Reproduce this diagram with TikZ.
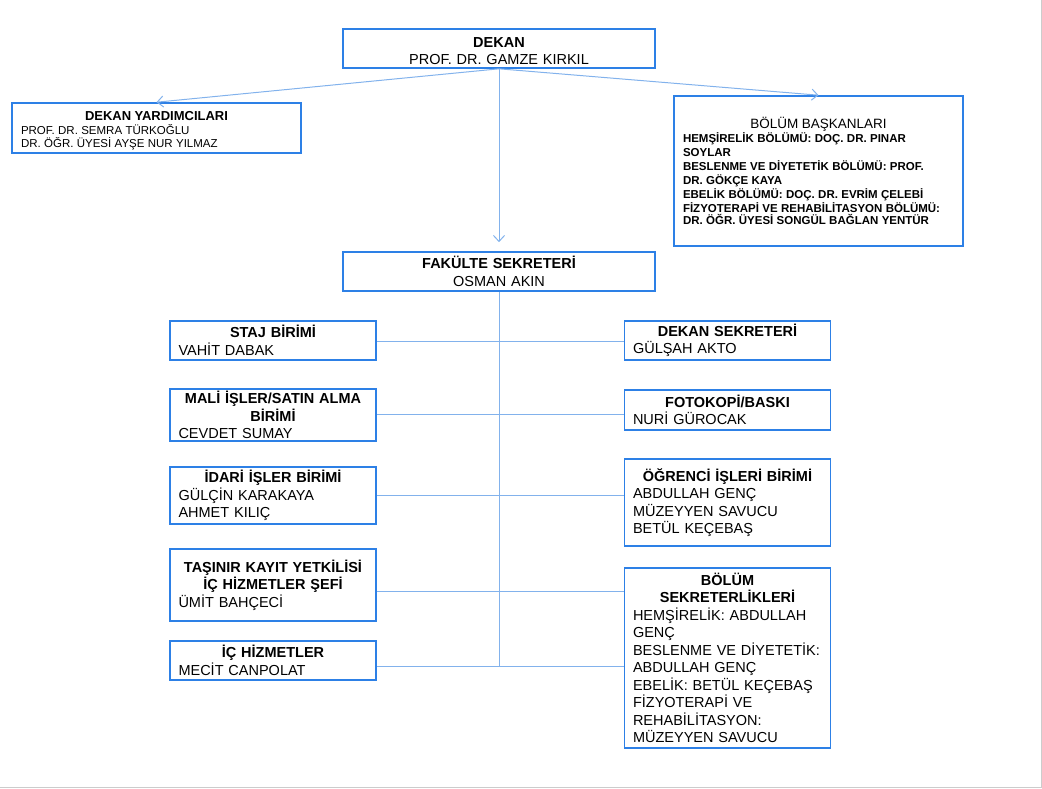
\documentclass[tikz,border=0pt]{standalone}
\usepackage{fontspec}
\setmainfont{Liberation Sans}
\usetikzlibrary{arrows.meta}
\definecolor{kenar}{RGB}{45,128,230}
\definecolor{hat}{RGB}{130,178,236}
\newcommand\baslik[1]{{\centering\bfseries #1\par}}
\begin{document}
\begin{tikzpicture}[x=1pt,y=-1pt,
  kutu/.style={draw=kenar, line width=1.6pt, inner xsep=9pt, inner ysep=2pt, align=left},
  alt/.style={kutu, font=\fontsize{14.5}{17.5}\selectfont, text width=189pt, inner xsep=8.5pt},
  bag/.style={draw=hat, line width=1pt},
  >={Straight Barb[length=6pt,width=11pt]}]
\useasboundingbox (0,0) rectangle (1042,788);
\draw[gray!40, line width=1.5pt] (1041.5,0) -- (1041.5,787.5) -- (0,787.5);
% ust kisim
\node[kutu, text width=294pt, minimum height=39pt, align=center, font=\fontsize{14.5}{17}\selectfont] (dekan) at (499,48.5) {\rule{0pt}{14.8pt}\textbf{DEKAN}\\PROF. DR. GAMZE KIRKIL};
\node[kutu, text width=271pt, minimum height=50pt] (yard) at (156.5,128) {{\fontsize{13}{15}\selectfont\baslik{\rule{0pt}{13.5pt}DEKAN YARDIMCILARI}}\fontsize{11.5}{14}\selectfont PROF. DR. SEMRA TÜRKOĞLU\\[1pt]DR. ÖĞR. ÜYESİ AYŞE NUR YILMAZ};
\node[kutu, text width=271pt, minimum height=150pt] (bask) at (818.5,171) {{\fontsize{13.5}{16}\selectfont\centering BÖLÜM BAŞKANLARI\par}\fontsize{11.5}{14}\selectfont\bfseries HEMŞİRELİK BÖLÜMÜ: DOÇ. DR. PINAR\\SOYLAR\\BESLENME VE DİYETETİK BÖLÜMÜ: PROF.\\DR. GÖKÇE KAYA\\EBELİK BÖLÜMÜ: DOÇ. DR. EVRİM ÇELEBİ\\FİZYOTERAPİ VE REHABİLİTASYON BÖLÜMÜ:\\DR. ÖĞR. ÜYESİ SONGÜL BAĞLAN YENTÜR};
\node[kutu, text width=294pt, minimum height=39pt, align=center, font=\fontsize{14.5}{18}\selectfont] (fak) at (499,271.5) {\textbf{FAKÜLTE SEKRETERİ}\\OSMAN AKIN};
% sol birimler
\node[alt, minimum height=39pt] (staj) at (273,340.5) {\baslik{STAJ BİRİMİ}VAHİT DABAK};
\node[alt, minimum height=50pt] (mali) at (273,415) {\baslik{MALİ İŞLER/SATIN ALMA\\BİRİMİ}CEVDET SUMAY};
\node[alt, minimum height=57pt] (idari) at (273,495.5) {\baslik{İDARİ İŞLER BİRİMİ}GÜLÇİN KARAKAYA\\AHMET KILIÇ};
\node[alt, minimum height=72pt] (tasinir) at (273,585) {\baslik{TAŞINIR KAYIT YETKİLİSİ\\İÇ HİZMETLER ŞEFİ}ÜMİT BAHÇECİ};
\node[alt, minimum height=39pt] (ichiz) at (273,660.5) {\baslik{İÇ HİZMETLER}MECİT CANPOLAT};
% sag birimler
\node[alt, minimum height=39pt] (dsek) at (727.5,340.5) {\baslik{DEKAN SEKRETERİ}GÜLŞAH AKTO};
\node[alt, minimum height=40pt] (foto) at (727.5,410) {\baslik{FOTOKOPİ/BASKI}NURİ GÜROCAK};
\node[alt, minimum height=87pt] (ogr) at (727.5,502.5) {\baslik{ÖĞRENCİ İŞLERİ BİRİMİ}ABDULLAH GENÇ\\MÜZEYYEN SAVUCU\\BETÜL KEÇEBAŞ};
\node[alt, minimum height=180pt] (bsek) at (727.5,658) {\baslik{BÖLÜM\\SEKRETERLİKLERİ}HEMŞİRELİK: ABDULLAH\\GENÇ\\BESLENME VE DİYETETİK:\\ABDULLAH GENÇ\\EBELİK: BETÜL KEÇEBAŞ\\FİZYOTERAPİ VE\\REHABİLİTASYON:\\MÜZEYYEN SAVUCU};
% baglantilar
\draw[bag,->] (dekan.south) -- (yard.north);
\draw[bag,->] (dekan.south) -- (bask.north);
\draw[bag,->,shorten >=9pt] (dekan.south) -- (fak.north);
\draw[bag] (fak.south) -- (fak.south |- 0,666);
\foreach \sol/\sag/\y in {staj/dsek/341, mali/foto/414, idari/ogr/495, tasinir/bsek/591, ichiz/bsek/666}
  \draw[bag] (\sol.east |- 0,\y) -- (\sag.west |- 0,\y);
\end{tikzpicture}
\end{document}
